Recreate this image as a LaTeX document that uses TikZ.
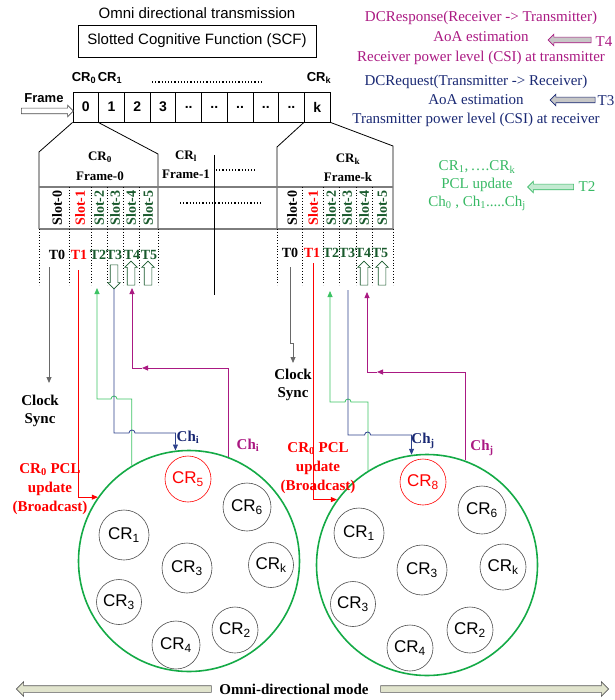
\documentclass[tikz,border=0pt]{standalone}
\usepackage{fontspec}
\setmainfont{Liberation Serif}
\setsansfont{Liberation Sans}
\usetikzlibrary{shapes.arrows,arrows.meta}

\definecolor{magT}{RGB}{170,25,130}
\definecolor{navyT}{RGB}{25,40,115}
\definecolor{lineblue}{RGB}{45,65,140}
\definecolor{pclgreen}{RGB}{55,185,100}
\definecolor{linegreen}{RGB}{60,195,100}
\definecolor{slotgreen}{RGB}{25,90,45}
\definecolor{netgreen}{RGB}{20,170,70}
\definecolor{omnifill}{RGB}{225,228,205}
\definecolor{rowgray}{RGB}{125,125,125}
\definecolor{clkgray}{RGB}{105,105,105}

\newcommand\sz[2]{\fontsize{#1}{#2}\selectfont}

\tikzset{
  cell/.style={draw, minimum width=25.7, minimum height=30, inner sep=0pt, font=\sffamily\bfseries\sz{14}{15}},
  crlbl/.style={font=\sffamily\bfseries\sz{13}{15}, inner sep=1pt},
  frlbl/.style={font=\bfseries\sz{13}{16}, align=center},
  slotlbl/.style={rotate=90, font=\bfseries\sz{14}{16}, inner sep=0pt},
  tlbl/.style={font=\bfseries\sz{14}{16}, inner sep=0pt},
  clk/.style={font=\bfseries\sz{15}{18}, align=center},
  chlbl/.style={font=\bfseries\sz{15}{18}},
  bcast/.style={text=red, font=\bfseries\sz{15}{19}, align=center},
  crnode/.style={circle, draw=black!70, semithick, minimum size=#1, inner sep=0pt, font=\sffamily\sz{17}{18}},
  crnode/.default=48,
  net/.style={circle, draw=netgreen, line width=1.6pt, minimum size=221, inner sep=0pt},
  harrow/.style={single arrow, inner sep=2.5pt, single arrow head extend=3pt, outer sep=0pt, semithick},
  slotarr/.style={single arrow, draw=slotgreen, fill=white, inner sep=3.5pt, single arrow head extend=2.5pt, minimum height=24, outer sep=0pt, semithick},
  omniarr/.style={single arrow, draw=black!65, fill=omnifill, inner sep=3pt, single arrow head extend=4pt, outer sep=0pt, semithick},
  arr/.style={-{Triangle[length=6pt,width=5pt]}},
}

\begin{document}
\begin{tikzpicture}[x=1pt, y=-1pt, thick]
\useasboundingbox (0,0) rectangle (614,700);

\node[font=\sffamily\sz{15}{18}] (omnitx) at (197,13) {Omni directional transmission};
\node[draw, minimum width=238, minimum height=32, font=\sffamily\sz{15}{18}] (scf) at (197,41) {Slotted Cognitive Function (SCF)};

% notes on the right
\node[text=magT, align=center, font=\sz{15}{20}] (resp) at (481,38) {DCResponse(Receiver -> Transmitter)\\AoA estimation\\Receiver power level (CSI) at transmitter};
\node[text=navyT, align=center, font=\sz{15}{19}] (req) at (476,101) {DCRequest(Transmitter -> Receiver)\\AoA estimation\\Transmitter power level (CSI) at receiver};
\node[harrow, draw=magT, fill=black!22, shape border rotate=180, minimum height=43] (t4arr) at (571,40) {};
\node[text=magT, font=\sz{15}{18}, inner sep=0pt] (t4) at (604,42) {T4};
\node[harrow, draw=navyT, fill=black!22, shape border rotate=180, minimum height=45] (t3arr) at (574,100) {};
\node[text=navyT, font=\sz{15}{18}, inner sep=0pt] (t3) at (606,101) {T3};
\node[text=pclgreen, align=center, font=\sz{15}{18}] (pcl) at (477,186) {CR\textsubscript{1},\,\dots.CR\textsubscript{k}\\PCL update\\Ch\textsubscript{0} , Ch\textsubscript{1}.....Ch\textsubscript{j}};
\node[harrow, draw=pclgreen, fill=pclgreen!30, shape border rotate=180, minimum height=46] (t2arr) at (552,187) {};
\node[text=pclgreen, font=\sz{15}{18}, inner sep=0pt] (t2) at (587,187) {T2};

% frame
\node[cell] (c0) at (85.85,107) {0};
\node[cell] (c1) at (111.55,107) {1};
\node[cell] (c2) at (137.25,107) {2};
\node[cell] (c3) at (162.95,107) {3};
\node[cell] (c4) at (188.65,107) {..};
\node[cell] (c5) at (214.35,107) {..};
\node[cell] (c6) at (240.05,107) {..};
\node[cell] (c7) at (265.75,107) {..};
\node[cell] (c8) at (291.45,107) {..};
\node[cell] (ck) at (317.15,107) {k};
\node[crlbl] (cr0) at (84,78) {CR\textsubscript{0}};
\node[crlbl] (cr1) at (110,78) {CR\textsubscript{1}};
\node[crlbl] (crk) at (319,78) {CR\textsubscript{k}};
\draw[dotted, line width=1.2pt] (152,82) -- (262,82);
\node[crlbl] (frm) at (44,98) {Frame};
\node[harrow, draw=black!70, fill=white, minimum height=52] (frarr) at (46,111) {};

% zoomed slots
\draw (c0.south west) -- (39,152) -- (39,229);
\draw (c1.south west) -- (158,154) -- (158,229);
\draw (ck.south west) -- (277,147) -- (277,229);
\draw (ck.south east) -- (393,146) -- (393,229);
\draw[rowgray, line width=1.6pt] (39,187) -- (393,187);
\draw[rowgray, line width=1.6pt] (39,229) -- (393,229);
\draw[dotted] (69,187) -- (69,285) (91,187) -- (91,285) (107,187) -- (107,285)
  (123,187) -- (123,285) (139,187) -- (139,285) (39,229) -- (39,285) (158,229) -- (158,285);
\draw[dotted] (302,187) -- (302,285) (323,187) -- (323,285) (339,187) -- (339,285)
  (356,187) -- (356,285) (372,187) -- (372,285) (277,229) -- (277,285) (393,229) -- (393,285);
\draw (214,155) -- (214,295);
\draw[dotted, line width=1.2pt] (216,170) -- (255,170);
\draw[dotted, line width=1.2pt] (180,203) -- (262,203);

\node[frlbl] (f0) at (100,166) {CR\textsubscript{0}\\[4pt]Frame-0};
\node[frlbl] (f1) at (186,165) {CR\textsubscript{l}\\[3pt]Frame-1};
\node[frlbl] (fk) at (348,168) {CR\textsubscript{k}\\[3pt]Frame-k};

\node[slotlbl] (ls0) at (57,208) {Slot-0};
\node[slotlbl, red] (ls1) at (80,208) {Slot-1};
\node[slotlbl, slotgreen] (ls2) at (99,208) {Slot-2};
\node[slotlbl, slotgreen] (ls3) at (115,208) {Slot-3};
\node[slotlbl, slotgreen] (ls4) at (131,208) {Slot-4};
\node[slotlbl, slotgreen] (ls5) at (148,208) {Slot-5};
\node[slotlbl] (rs0) at (292,208) {Slot-0};
\node[slotlbl, red] (rs1) at (313,208) {Slot-1};
\node[slotlbl, slotgreen] (rs2) at (331,208) {Slot-2};
\node[slotlbl, slotgreen] (rs3) at (347,208) {Slot-3};
\node[slotlbl, slotgreen] (rs4) at (364,208) {Slot-4};
\node[slotlbl, slotgreen] (rs5) at (382,208) {Slot-5};

\node[tlbl] (lT0) at (57,255) {T0};
\node[tlbl, red] (lT1) at (79,255) {T1};
\node[tlbl, slotgreen] (lT2) at (98,255) {T2};
\node[tlbl, slotgreen] (lT3) at (114,255) {T3};
\node[tlbl, slotgreen] (lT4) at (132,255) {T4};
\node[tlbl, slotgreen] (lT5) at (149,255) {T5};
\node[tlbl] (rT0) at (290,253) {T0};
\node[tlbl, red] (rT1) at (312,253) {T1};
\node[tlbl, slotgreen] (rT2) at (331,253) {T2};
\node[tlbl, slotgreen] (rT3) at (347,253) {T3};
\node[tlbl, slotgreen] (rT4) at (363,253) {T4};
\node[tlbl, slotgreen] (rT5) at (380,253) {T5};

\node[slotarr, shape border rotate=270] (lA3) at (114,275) {};
\node[slotarr, shape border rotate=90] (lA4) at (131,275) {};
\node[slotarr, shape border rotate=90] (lA5) at (148,275) {};
\node[slotarr, shape border rotate=90] (rA4) at (364,275) {};
\node[slotarr, shape border rotate=90] (rA5) at (382,275) {};

% networks
\node[net] (netA) at (189,561) {};
\node[crnode=46, draw=red, text=red] (a5) at (188,479) {CR\textsubscript{5}};
\node[crnode] (a6) at (247,507) {CR\textsubscript{6}};
\node[crnode=50] (a1) at (124,535) {CR\textsubscript{1}};
\node[crnode=50] (a3c) at (187,568) {CR\textsubscript{3}};
\node[crnode=45] (ak) at (271,565) {CR\textsubscript{k}};
\node[crnode=45] (a3) at (119,602) {CR\textsubscript{3}};
\node[crnode=46] (a2) at (235,630) {CR\textsubscript{2}};
\node[crnode] (a4) at (176,645) {CR\textsubscript{4}};

\node[net] (netB) at (427,565) {};
\node[crnode=46, draw=red, text=red] (b8) at (423,482) {CR\textsubscript{8}};
\node[crnode] (b6) at (482,510) {CR\textsubscript{6}};
\node[crnode=50] (b1) at (359,533) {CR\textsubscript{1}};
\node[crnode=50] (b3c) at (422,570) {CR\textsubscript{3}};
\node[crnode=46] (bk) at (503,567) {CR\textsubscript{k}};
\node[crnode=45] (b3) at (353,604) {CR\textsubscript{3}};
\node[crnode=46] (b2) at (470,630) {CR\textsubscript{2}};
\node[crnode=46] (b4) at (410,648) {CR\textsubscript{4}};

% slot links, left
\coordinate (lT0s) at (49,267);
\coordinate (lT0e) at (49,383);
\coordinate (lT1s) at (78,270);
\coordinate (lT2e) at (97,288);
\coordinate (lT4e) at (132,288);
\coordinate (lmid) at (142,368);
\node[clk] (lclock) at (40,411) {Clock\\Sync};
\draw[clkgray, arr] (lT0s) -- (lT0e);
\draw[red, arr] (lT1s) |- (netA.145);
\draw[linegreen, arr] (netA.121) |- (117,399) arc (0:180:3pt) -| (lT2e);
\draw[lineblue, arr] (lA3.tip) |- (129,433) arc (180:0:3pt) -| (netA.97.3);
\draw[magT, arr] (netA.69.2) |- (lmid);
\draw[magT, arr] (lmid) -| (lT4e);
\node[bcast] (lbc) at (50,489) {CR\textsubscript{0} PCL\\update\\(Broadcast)};
\node[chlbl, text=navyT] (lchn) at (188,437) {Ch\textsubscript{i}};
\node[chlbl, text=magT] (lchm) at (248,445) {Ch\textsubscript{i}};

% slot links, right
\coordinate (rT0s) at (290,267);
\coordinate (rT0e) at (293,363);
\coordinate (rT1s) at (313,263);
\coordinate (rT2e) at (330,291);
\coordinate (rT3s) at (348,290);
\coordinate (rT4e) at (367,292);
\coordinate (rmid) at (377,372);
\node[clk] (rclock) at (293,385) {Clock\\Sync};
\draw[clkgray, arr] (rT0s) -- ++(0,76) -- ++(3,0) -- (rT0e);
\draw[red, arr] (rT1s) |- (netB.144);
\draw[linegreen, arr] (netB.122.4) |- (351,402) arc (0:180:3pt) -| (rT2e);
\draw[lineblue, arr] (rT3s) |- (364.6,435) arc (180:0:3pt) -| (netB.98.9);
\draw[magT, arr] (netB.70.9) |- (rmid);
\draw[magT, arr] (rmid) -| (rT4e);
\node[bcast] (rbc) at (318,468) {CR\textsubscript{0} PCL\\update\\(Broadcast)};
\node[chlbl, text=navyT] (rchn) at (423,441) {Ch\textsubscript{j}};
\node[chlbl, text=magT] (rchm) at (482,448) {Ch\textsubscript{j}};

% mode
\node[omniarr, shape border rotate=180, minimum height=195] (omL) at (115.5,689) {};
\node[font=\bfseries\sz{15}{18}] (omni) at (294,689) {Omni-directional mode};
\node[omniarr, minimum height=228] (omR) at (493,689) {};
\end{tikzpicture}
\end{document}
